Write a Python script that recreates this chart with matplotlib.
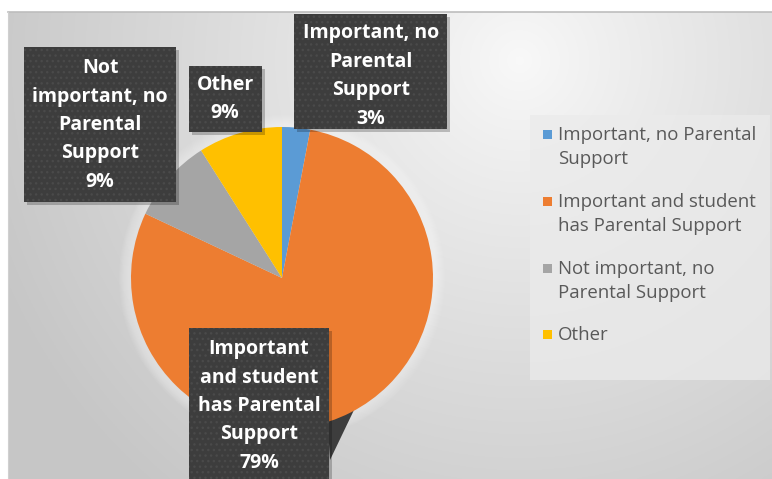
import numpy as np
import matplotlib
matplotlib.use("Agg")
import matplotlib.pyplot as plt
from matplotlib.patches import Rectangle, Polygon, Circle

# ---- data ----
categories = ["Important, no Parental Support",
              "Important and student has Parental Support",
              "Not important, no Parental Support",
              "Other"]
values = [3, 79, 9, 9]
colors = ["#5B9BD5", "#ED7D31", "#A5A5A5", "#FFC000"]
box_labels = ["Important, no\nParental\nSupport",
              "Important\nand student\nhas Parental\nSupport",
              "Not\nimportant, no\nParental\nSupport",
              "Other"]
legend_labels = ["Important, no Parental\nSupport",
                 "Important and student\nhas Parental Support",
                 "Not important, no\nParental Support",
                 "Other"]

W, H = 772, 479
fig = plt.figure(figsize=(W / 100, H / 100), dpi=100)
ax = fig.add_axes([0, 0, 1, 1])
ax.set_xlim(0, W)
ax.set_ylim(0, H)
ax.axis("off")

def Y(y):
    return H - y

# ---- background gradient (chart area) ----
x0, y0 = 8, 12
xs = np.linspace(x0, W, 400)
ys = np.linspace(y0, H, 300)
XX, YY = np.meshgrid(xs, ys)
d = np.sqrt((XX - 520) ** 2 + (YY - 60) ** 2)
t = np.clip(d / 560.0, 0, 1) ** 0.9
c = 0.975 - t * (0.975 - 0.78)
img = np.dstack([c, c, c])
ax.imshow(img, extent=(x0, W, Y(H), Y(y0)), origin="upper", aspect="auto", zorder=0)
ax.plot([x0, W], [Y(y0), Y(y0)], color="#bdbdbd", lw=1.2, zorder=1)
ax.plot([x0, x0], [Y(y0), 0], color="#d0d0d0", lw=0.8, zorder=1)

# ---- pie ----
cx, cy, r = 282, 278, 151
for k in range(10):
    ax.add_patch(Circle((cx, Y(cy)), r + 12 - k, color="white", alpha=0.05, lw=0, zorder=2))

# callout pointer of the big label (under the pie)
ax.add_patch(Polygon([(326, Y(395)), (356, Y(395)), (354, Y(410)), (330, Y(460))],
                     closed=True, facecolor="#3d3d3d", edgecolor="none", zorder=2.5))

wedges, _ = ax.pie(values, colors=colors, startangle=90, counterclock=False,
                   center=(cx, Y(cy)), radius=r, frame=True,
                   wedgeprops=dict(linewidth=0))
for w in wedges:
    w.set_zorder(3)
ax.set_xlim(0, W)
ax.set_ylim(0, H)
ax.set_aspect("auto")
ax.axis("off")

# ---- label boxes ----
boxes = [  # x0, y0, x1, y1 (pixels, top-left origin)
    (294, 14, 447, 129),
    (189, 328, 329, 490),
    (24, 47, 176, 202),
    (189, 66, 262, 132),
]
text_centers = [(371, 76), (259, 406), (100, 125), (225, 99)]
fam = ["Open Sans", "DejaVu Sans"]
for i, (bx0, by0, bx1, by1) in enumerate(boxes):
    ax.add_patch(Rectangle((bx0 + 3, Y(by1) - 3), bx1 - bx0, by1 - by0,
                           facecolor="black", alpha=0.22, lw=0, zorder=4))
    ax.add_patch(Rectangle((bx0, Y(by1)), bx1 - bx0, by1 - by0,
                           facecolor="#3d3d3d", edgecolor="#4a4a4a", lw=0,
                           hatch="...", zorder=5))
    tx, ty = text_centers[i]
    ax.text(tx, Y(ty), f"{box_labels[i]}\n{values[i]}%", ha="center", va="center",
            multialignment="center", color="white", fontsize=14, fontweight="bold",
            family=fam, linespacing=1.56, zorder=6)

# ---- legend ----
ax.add_patch(Rectangle((530, Y(380)), 240, 265, facecolor="#ebebeb", edgecolor="none",
                       alpha=0.75, zorder=2))
leg_first_line = [134, 201, 268, 334]
for i, lab in enumerate(legend_labels):
    ly = leg_first_line[i]
    ax.add_patch(Rectangle((543, Y(ly) - 4.5), 9, 9, facecolor=colors[i], lw=0, zorder=6))
    ax.text(558, Y(ly) + 8, lab, ha="left", va="top", color="#595959", fontsize=13.4,
            family=fam, linespacing=1.45, zorder=6)

fig.savefig("out.png", dpi=100, facecolor="white")
